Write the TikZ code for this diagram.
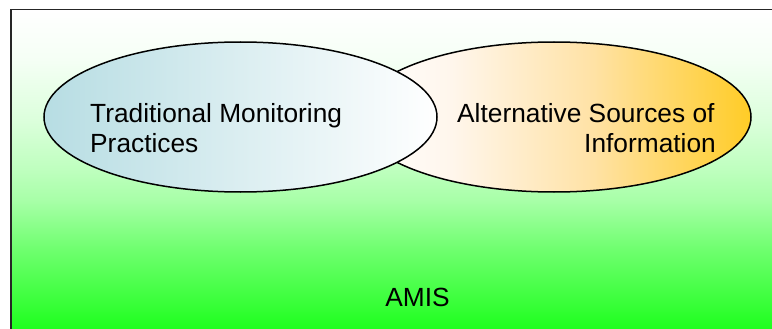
\documentclass[tikz,border=0pt]{standalone}
\usepackage{fontspec}
\setmainfont{Liberation Sans}
\definecolor{gA}{RGB}{30,255,30}
\definecolor{gB}{RGB}{70,255,70}
\definecolor{gC}{RGB}{110,255,110}
\definecolor{gD}{RGB}{168,255,168}
\definecolor{gE}{RGB}{190,255,190}
\definecolor{gF}{RGB}{220,255,220}
\definecolor{gG}{RGB}{245,255,245}
\definecolor{tealL}{RGB}{183,221,227}
\definecolor{goldR}{RGB}{255,204,38}
\definecolor{goldM}{RGB}{255,226,165}
\definecolor{goldW}{RGB}{255,246,236}
\pgfdeclareverticalshading{bgshade}{100bp}{color(0bp)=(gA); color(25bp)=(gA); color(31.1bp)=(gB); color(37.4bp)=(gC); color(45.2bp)=(gD); color(49.9bp)=(gE); color(57.8bp)=(gF); color(67.2bp)=(gG); color(75bp)=(white); color(100bp)=(white)}
\pgfdeclarehorizontalshading{goldshade}{100bp}{color(0bp)=(white); color(25bp)=(white); color(37bp)=(goldW); color(55bp)=(goldM); color(75bp)=(goldR); color(100bp)=(goldR)}
\tikzset{
  ovalshape/.style={draw=black, line width=1.5pt},
  lbl/.style={inner sep=0pt, font=\fontsize{26.3}{30}\selectfont, text=black},
}
\begin{document}
\begin{tikzpicture}[x=1pt,y=-1pt]
\useasboundingbox (0,0) rectangle (772,329);
\fill[white] (0,0) rectangle (772,329);
\shade[shading=bgshade] (10.75,9.75) rectangle (772,329);
\draw[line width=1.5pt, black!85] (772,9.75) -- (10.75,9.75) -- (10.75,329);
\path[ovalshape, shading=goldshade] (554,117) ellipse [x radius=197, y radius=75];
\path[ovalshape, left color=tealL, right color=white] (240.5,117) ellipse [x radius=196.5, y radius=75];
\node[lbl, anchor=base west] (tm1) at (90,122) {Traditional Monitoring};
\node[lbl, anchor=base west] (tm2) at (90,152) {Practices};
\node[lbl, anchor=base west] (as1) at (457,122) {Alternative Sources of};
\node[lbl, anchor=base east] (as2) at (716,152) {Information};
\node[lbl, anchor=base] (amis) at (417.5,306) {AMIS};
\end{tikzpicture}
\end{document}
